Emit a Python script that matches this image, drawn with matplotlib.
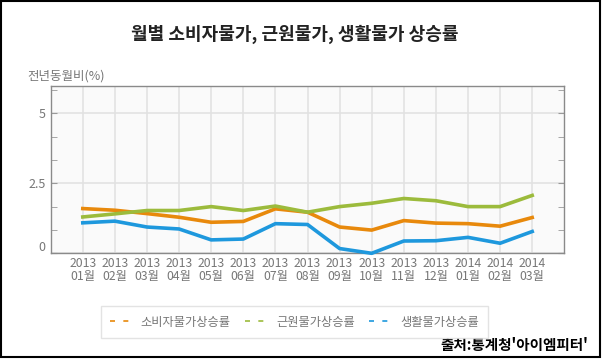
import numpy as np
import matplotlib.pyplot as plt
from matplotlib.lines import Line2D
from matplotlib.patches import Rectangle
import matplotlib.transforms as mtrans

plt.rcParams['font.family'] = ['Noto Sans CJK KR', 'DejaVu Sans']

months = ['2013\n01월', '2013\n02월', '2013\n03월', '2013\n04월', '2013\n05월',
          '2013\n06월', '2013\n07월', '2013\n08월', '2013\n09월', '2013\n10월',
          '2013\n11월', '2013\n12월', '2014\n01월', '2014\n02월', '2014\n03월']
cpi = [1.60, 1.54, 1.42, 1.29, 1.11, 1.14, 1.59, 1.47, 0.94, 0.83, 1.17, 1.08, 1.06, 0.97, 1.28]
core = [1.30, 1.41, 1.53, 1.53, 1.67, 1.53, 1.69, 1.47, 1.67, 1.79, 1.96, 1.88, 1.67, 1.67, 2.07]
living = [1.09, 1.15, 0.94, 0.87, 0.48, 0.51, 1.06, 1.03, 0.17, 0.0, 0.44, 0.45, 0.57, 0.36, 0.78]
names = ['소비자물가상승률', '근원물가상승률', '생활물가상승률']
colors = ['#e8890c', '#9cbb3c', '#1e98dd']

fig = plt.figure(figsize=(6.02, 3.59), dpi=100)
ax = fig.add_axes([0.0842, 0.2944, 0.8532, 0.4674])
ax.set_facecolor('#fafafa')

x = np.arange(len(months))
for ys, c in zip([cpi, core, living], colors):
    ax.plot(x, ys, color=c, linewidth=2.6, solid_joinstyle='round', clip_on=False, zorder=3)

ax.set_xlim(-1, 15)
ax.set_ylim(0, 6)
ax.set_xticks(x)
ax.set_xticklabels(months, fontsize=8.8, color='#777777', linespacing=0.95)
ax.set_yticks([0, 2.5, 5])
ax.set_yticklabels(['0', '2.5', '5'], fontsize=9, color='#777777')
ax.set_yticks([2.5 / 3 * i for i in [1, 2, 4, 5, 7]], minor=True)
ax.tick_params(axis='x', length=0, pad=3)
ax.tick_params(axis='y', which='both', direction='in', length=4, color='#999999',
               right=True, left=True)
ax.grid(True, which='major', color='#e2e2e2', linewidth=1.2)
ax.set_axisbelow(True)
for s in ax.spines.values():
    s.set_color('#8a8a8a')
    s.set_linewidth(1.0)

# 0 label sits a bit above the bottom edge
lab0 = ax.get_yticklabels()[0]
lab0.set_transform(lab0.get_transform() + mtrans.ScaledTranslation(0, 7 / 100, fig.dpi_scale_trans))

fig.text(0.49, 0.905, '월별 소비자물가, 근원물가, 생활물가 상승률', ha='center', va='center',
         fontsize=13, fontweight='bold', color='#222222')
fig.text(0.045, 0.788, '전년동월비(%)', ha='left', va='center', fontsize=9, color='#777777')

handles = [Line2D([0], [0], color=c, linestyle=(0, (3, 5)), linewidth=1.2) for c in colors]
leg = fig.legend(handles, names, loc='center', bbox_to_anchor=(0.489, 0.103), ncol=3,
                 fontsize=8.8, frameon=True, fancybox=False, handlelength=1.9,
                 columnspacing=1.2, handletextpad=0.6, borderpad=0.75, borderaxespad=0)
leg.get_frame().set_edgecolor('#dddddd')
leg.get_frame().set_linewidth(1.0)
for t in leg.get_texts():
    t.set_color('#777777')

fig.text(0.977, 0.039, "출처:통계청'아이엠피터'", ha='right', va='center', fontsize=10.5,
         fontweight='bold', color='#000000')

fig.patches.append(Rectangle((0.001, 0.0056), 0.995, 0.993, transform=fig.transFigure,
                             fill=False, edgecolor='black', linewidth=1.5))

fig.savefig('out.png', dpi=100)
